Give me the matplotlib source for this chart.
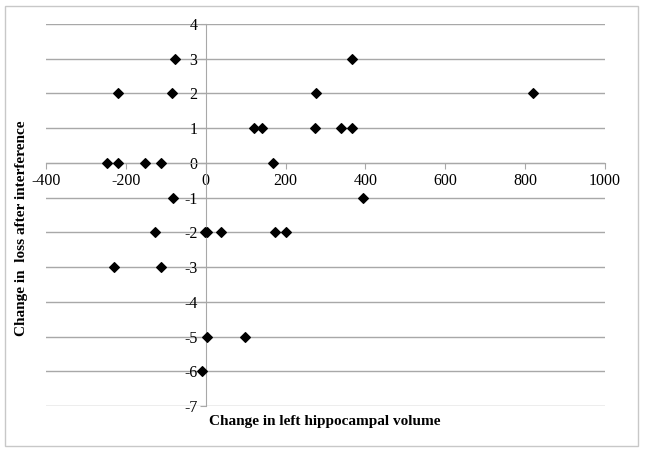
import numpy as np
import matplotlib.pyplot as plt
from matplotlib.patches import Rectangle

# change in left hippocampal volume vs change in loss after interference
volume = [-78, 366,
          -219, -84, 276, 820,
          122, 140, 274, 340, 366,
          -246, -220, -153, -111, 169,
          -83, 394,
          -126, -2, 4, 38, 174, 202,
          -229, -112,
          2, 99,
          -9]
loss = [3, 3,
        2, 2, 2, 2,
        1, 1, 1, 1, 1,
        0, 0, 0, 0, 0,
        -1, -1,
        -2, -2, -2, -2, -2, -2,
        -3, -3,
        -5, -5,
        -6]

x_ticks = [-400, -200, 0, 200, 400, 600, 800, 1000]
y_ticks = list(range(-7, 5))

plt.rcParams['font.family'] = ['Liberation Serif', 'DejaVu Serif']
plt.rcParams['axes.unicode_minus'] = False

fig = plt.figure(figsize=(6.45, 4.53), dpi=100)
fig.patches.append(Rectangle((5/645, 7/453), 633/645, 440/453, transform=fig.transFigure,
                             fill=False, edgecolor='#c8c8c8', linewidth=1))
ax = fig.add_axes([46/645, 1 - 406/453, 559/645, 382/453])

ax.set_xlim(-400, 1000)
ax.set_ylim(-7, 4)

for y in y_ticks:
    ax.axhline(y, color='#a8a8a8', linewidth=1, zorder=1)

ax.spines['top'].set_visible(False)
ax.spines['right'].set_visible(False)
ax.spines['left'].set_position(('data', 0))
ax.spines['bottom'].set_position(('data', 0))
ax.spines['left'].set_color('#a8a8a8')
ax.spines['bottom'].set_color('#a8a8a8')

ax.set_xticks(x_ticks)
ax.set_yticks(y_ticks)
ax.tick_params(axis='both', colors='#a8a8a8', labelcolor='black', labelsize=11.5,
               direction='out', length=4)
ax.tick_params(axis='y', pad=2)

ax.scatter(volume, loss, marker='D', s=24, color='black', zorder=3)

fig.text(325/645, 1 - 421/453, 'Change in left hippocampal volume', ha='center', va='center',
         fontsize=11, fontweight='bold')
fig.text(22/645, 1 - 228/453, 'Change in  loss after interference', ha='center', va='center',
         fontsize=11, fontweight='bold', rotation=90)

fig.savefig('out.png', dpi=100)
